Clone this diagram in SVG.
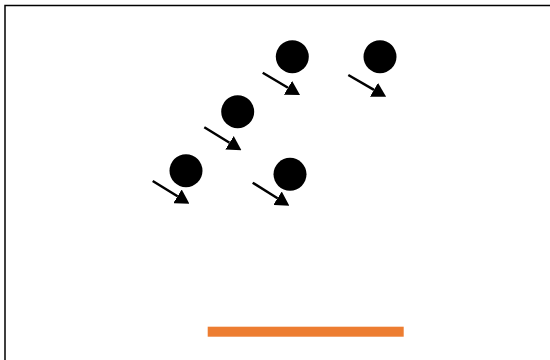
<svg xmlns="http://www.w3.org/2000/svg" width="550" height="360" viewBox="0 0 550 360">
<style>
.dot{fill:#000}
.arr{stroke:#000;stroke-width:2.5;fill:none;marker-end:url(#ah)}
</style>
<defs>
<marker id="ah" markerUnits="userSpaceOnUse" markerWidth="14" markerHeight="16" viewBox="0 0 14 16" refX="0" refY="8" orient="auto">
<path d="M0,0 L14,8 L0,16 z" fill="#000"/>
</marker>
</defs>
<rect x="5" y="5.5" width="560" height="370" fill="#fff" stroke="#000" stroke-width="1.5"/>
<g id="p1"><circle class="dot" cx="186" cy="170.7" r="16.5"/></g>
<g id="p2"><circle class="dot" cx="290" cy="174.3" r="16.5"/></g>
<g id="p3"><circle class="dot" cx="237.7" cy="111.7" r="16.5"/></g>
<g id="p4"><circle class="dot" cx="292.3" cy="56.7" r="16.5"/></g>
<g id="p5"><circle class="dot" cx="380" cy="56.7" r="16.5"/></g>
<g id="bar"><rect x="207.7" y="326.7" width="196" height="10" fill="#ED7D31"/></g>
<g id="connectors">
<line class="arr" x1="152.7" y1="181" x2="177.5" y2="196.3"/>
<line class="arr" x1="252.7" y1="182.7" x2="277.5" y2="198.3"/>
<line class="arr" x1="204.3" y1="127.3" x2="229.5" y2="142.8"/>
<line class="arr" x1="262.7" y1="72.7" x2="288" y2="87.8"/>
<line class="arr" x1="348.3" y1="75" x2="374" y2="89.8"/>
</g>
</svg>
